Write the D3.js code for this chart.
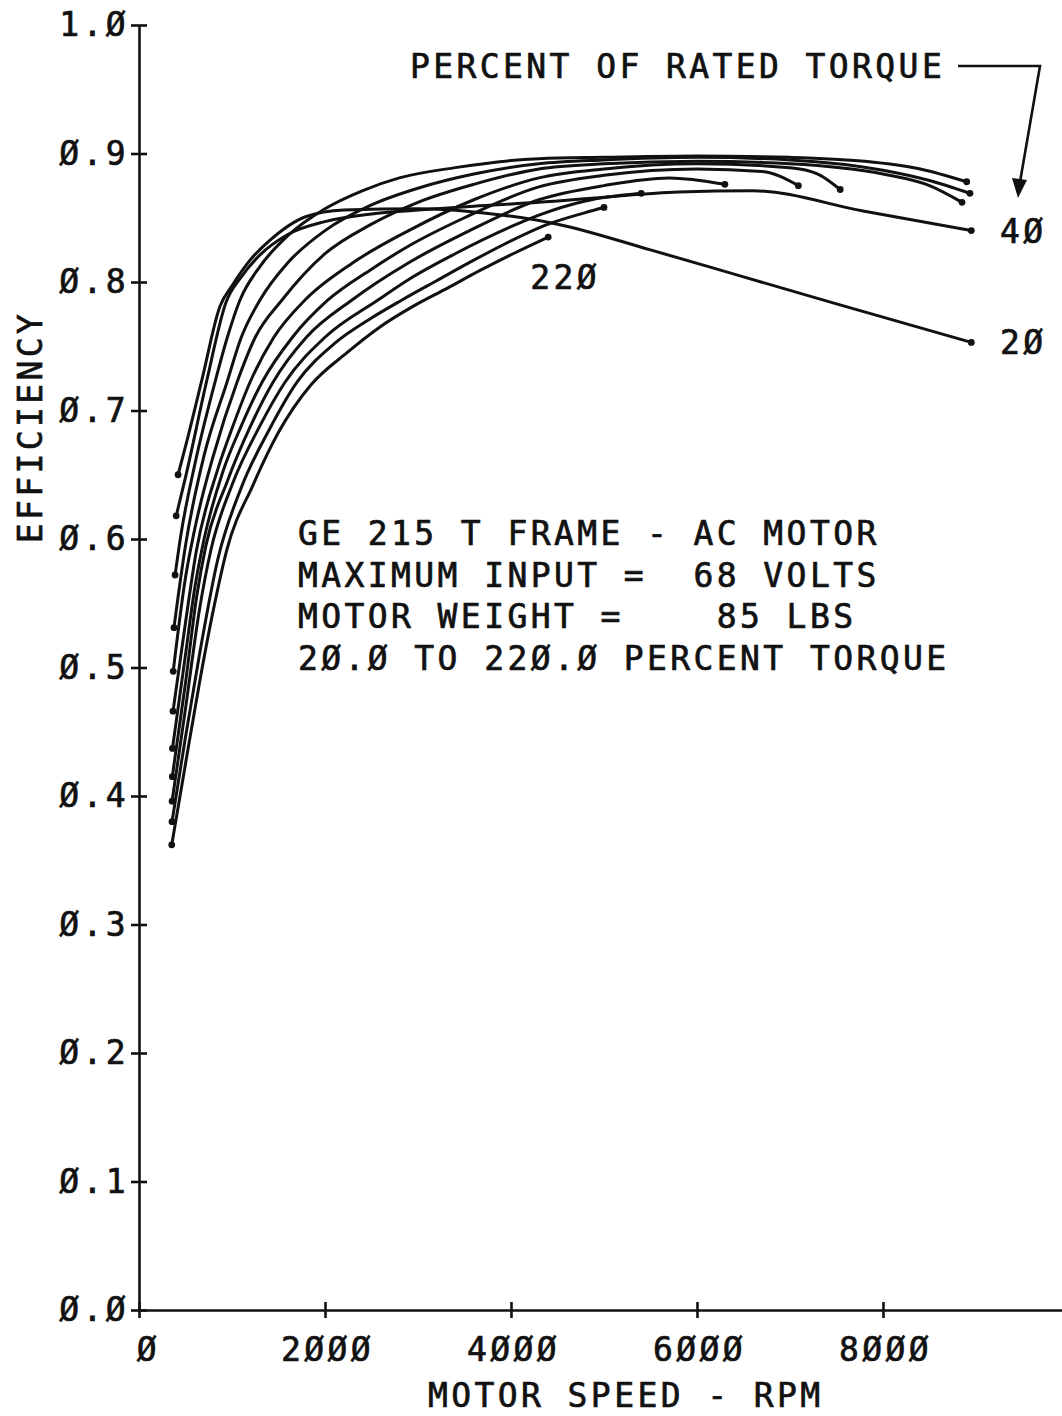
<!DOCTYPE html>
<html>
<head>
<meta charset="utf-8">
<script src="https://cdn.jsdelivr.net/npm/d3@7"></script>
<style>
  html, body { margin: 0; padding: 0; background: #fff; }
  svg { display: block; }
  text { font-family: "DejaVu Sans Mono", monospace; font-size: 33px; letter-spacing: 3.4px; fill: #111; stroke: #111; stroke-width: 0.7px; }
</style>
</head>
<body>
<svg id="chart" width="1062" height="1416"></svg>
<script>

// percent of rated torque, one curve each
var TORQUE = [20, 40, 60, 80, 100, 120, 140, 160, 180, 200, 220];

// [motor speed rpm, efficiency]
var curve20  = [[420,.650],[500,.672],[677,.724],[870,.781],[1000,.797],[1194,.817],[1400,.832],[1800,.851],[2200,.856],[3000,.857],[3800,.853],[4500,.845],[5500,.825],[6500,.804],[7500,.783],[8950,.753]];
var curve40  = [[400,.618],[500,.648],[731,.724],[935,.784],[1100,.804],[1300,.821],[1600,.837],[2000,.847],[2500,.853],[3000,.856],[3600,.859],[4300,.862],[5000,.866],[5800,.870],[6600,.871],[7800,.855],[8950,.840]];
var curve60  = [[388,.572],[450,.603],[600,.658],[817,.722],[950,.757],[1086,.786],[1300,.812],[1600,.836],[2000,.857],[2400,.871],[2800,.881],[3400,.889],[4300,.896],[5000,.897],[6000,.898],[7000,.897],[7800,.894],[8400,.888],[8900,.878]];
var curve80  = [[376,.531],[500,.595],[700,.665],[946,.722],[1100,.757],[1301,.786],[1600,.815],[2000,.840],[2500,.860],[3000,.873],[3600,.884],[4300,.892],[5000,.895],[6000,.897],[7000,.895],[8000,.887],[8500,.879],[8935,.869]];
var curve100 = [[368,.497],[500,.570],[600,.608],[800,.665],[1054,.722],[1250,.757],[1538,.786],[2000,.822],[2500,.845],[3000,.862],[3600,.876],[4300,.888],[5000,.892],[6000,.894],[7000,.892],[8000,.884],[8500,.875],[8850,.862]];
var curve120 = [[366,.466],[500,.535],[615,.590],[850,.655],[1000,.686],[1194,.722],[1450,.757],[1785,.786],[2300,.815],[2900,.840],[3600,.864],[4300,.881],[5000,.888],[6000,.892],[7000,.889],[7300,.884],[7540,.872]];
var curve140 = [[360,.437],[500,.510],[600,.562],[700,.600],[900,.652],[1100,.688],[1323,.722],[1650,.757],[2032,.786],[2500,.810],[2900,.828],[3500,.850],[4300,.874],[5000,.883],[6000,.888],[6700,.886],[7090,.875]];
var curve160 = [[358,.415],[500,.488],[620,.555],[720,.595],[950,.645],[1200,.688],[1441,.722],[1800,.757],[2290,.786],[2900,.815],[3500,.838],[4300,.864],[5000,.875],[5700,.881],[6300,.876]];
var curve180 = [[356,.396],[500,.468],[650,.545],[775,.592],[1000,.642],[1300,.688],[1570,.722],[2000,.757],[2570,.786],[2900,.802],[3400,.822],[4000,.843],[4300,.852],[4800,.863],[5400,.869]];
var curve200 = [[355,.380],[500,.446],[650,.510],[850,.585],[1100,.640],[1400,.685],[1699,.722],[2100,.752],[2500,.772],[2828,.786],[3200,.801],[3600,.817],[4000,.832],[4400,.845],[4800,.854],[5000,.858]];
var curve220 = [[352,.362],[500,.425],[650,.488],[800,.545],[946,.592],[1226,.642],[1500,.683],[1850,.720],[2237,.745],[2591,.765],[2946,.781],[3312,.795],[3667,.809],[4022,.822],[4400,.835]];

var CURVES = [curve20, curve40, curve60, curve80, curve100, curve120, curve140, curve160, curve180, curve200, curve220];

var X_TICKS = [0, 2000, 4000, 6000, 8000];
var Y_TICKS = [0, 0.1, 0.2, 0.3, 0.4, 0.5, 0.6, 0.7, 0.8, 0.9, 1.0];

var NOTE_LINES = [
  'GE 215 T FRAME - AC MOTOR',
  'MAXIMUM INPUT =  68 VOLTS',
  'MOTOR WEIGHT =    85 LBS',
  '20.0 TO 220.0 PERCENT TORQUE'
];

var svg = d3.select('#chart');

var x = d3.scaleLinear().domain([0, 9925]).range([139, 1062]);
var y = d3.scaleLinear().domain([0, 1]).range([1310, 25]);

// plotter writes zero with a slash
function slashZero(s){ return String(s).replace(/0/g, '\u00D8'); }

// axes
var gy = svg.append('g')
    .attr('transform', 'translate(' + x(0) + ',0)')
    .call(d3.axisLeft(y).tickValues(Y_TICKS).tickSize(8).tickSizeOuter(0).tickPadding(2)
      .tickFormat(function(d){ return slashZero(d3.format('.1f')(d)); }));

var gx = svg.append('g')
    .attr('transform', 'translate(0,' + y(0) + ')')
    .call(d3.axisBottom(x).tickValues(X_TICKS).tickSize(8).tickSizeOuter(0).tickPadding(20)
      .tickFormat(function(d){ return slashZero(d); }));

[gy, gx].forEach(function(g){
  g.attr('font-size', null).attr('font-family', null);
  g.select('.domain').attr('stroke', '#111').attr('stroke-width', 2.6);
  g.selectAll('.tick line').attr('stroke', '#111').attr('stroke-width', 2.6);
});
gy.selectAll('.tick line').attr('x1', 8);
gx.selectAll('.tick line').attr('y1', -8);
gx.selectAll('.tick text').attr('dx', function(d){ return d === 0 ? 9 : 2; });

// efficiency curves
var line = d3.line()
    .curve(d3.curveMonotoneX)
    .x(function(d){ return x(d[0]); })
    .y(function(d){ return y(d[1]); });

var gCurves = svg.append('g');

gCurves.selectAll('path').data(CURVES).enter().append('path')
    .attr('d', line)
    .attr('fill', 'none')
    .attr('stroke', '#111')
    .attr('stroke-width', 3)
    .attr('stroke-linejoin', 'round')
    .attr('stroke-linecap', 'round');

// plotter pen dots at both ends of every curve
gCurves.selectAll('circle')
    .data(CURVES.reduce(function(memo, c){ memo.push(c[0], c[c.length - 1]); return memo; }, []))
    .enter().append('circle')
      .attr('cx', function(d){ return x(d[0]); })
      .attr('cy', function(d){ return y(d[1]); })
      .attr('r', 3.4)
      .attr('fill', '#111');

// labels on the curves
var first = CURVES[0], second = CURVES[1], last = CURVES[CURVES.length - 1];
svg.append('text').attr('x', 1000).attr('y', y(second[second.length - 1][1]) + 12).text(slashZero(TORQUE[1]));
svg.append('text').attr('x', 1000).attr('y', y(first[first.length - 1][1]) + 12).text(slashZero(TORQUE[0]));
svg.append('text').attr('x', x(last[last.length - 1][0]) - 18).attr('y', y(last[last.length - 1][1]) + 52).text(slashZero(TORQUE[TORQUE.length - 1]));

// legend caption with its arrow
svg.append('text').attr('x', 410).attr('y', 78).text('PERCENT OF RATED TORQUE');
svg.append('path')
    .attr('d', 'M958,66H1040L1020,182')
    .attr('fill', 'none').attr('stroke', '#111').attr('stroke-width', 2.6);
svg.append('path')
    .attr('d', 'M1012,178L1027,180L1018,198Z')
    .attr('fill', '#111');

// motor notes
svg.append('g').selectAll('text').data(NOTE_LINES).enter().append('text')
    .attr('x', 298)
    .attr('y', function(d, i){ return 545 + i * 41.5; })
    .attr('xml:space', 'preserve')
    .style('white-space', 'pre')
    .text(function(d){ return slashZero(d); });

// axis titles
svg.append('text')
    .attr('x', 428).attr('y', 1407)
    .text('MOTOR SPEED - RPM');

svg.append('text')
    .attr('transform', 'translate(42,427) rotate(-90)')
    .attr('text-anchor', 'middle')
    .text('EFFICIENCY');

</script>
</body>
</html>
